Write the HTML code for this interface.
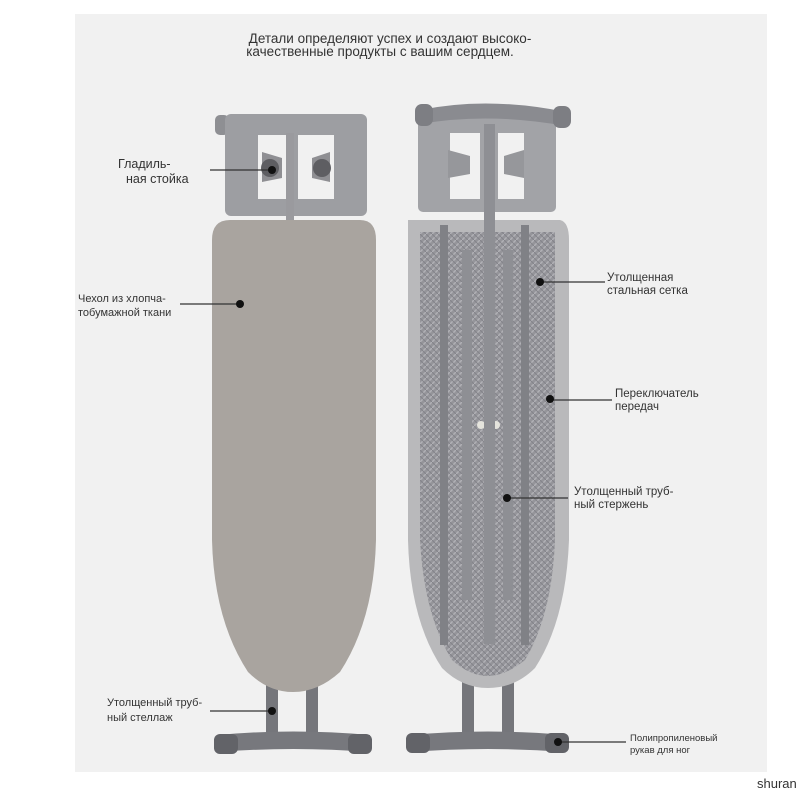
<!DOCTYPE html>
<html><head><meta charset="utf-8"><style>
html,body{margin:0;padding:0;background:#fff;}
svg{display:block;}
text{font-family:"Liberation Sans",sans-serif;fill:#333;}
</style></head><body>
<svg width="800" height="800" viewBox="0 0 800 800" xmlns="http://www.w3.org/2000/svg">
<defs>
<pattern id="mesh" width="6" height="6" patternUnits="userSpaceOnUse">
<rect width="6" height="6" fill="#95959a"/>
<path d="M0 6L6 0" stroke="#b0b0b5" stroke-width="1.5"/>
<path d="M0 0L6 6" stroke="#84848a" stroke-width="1"/>
</pattern>
</defs>
<rect x="75" y="14" width="692" height="758" fill="#f1f1f1"/>
<text x="390" y="43" text-anchor="middle" font-size="13.5" fill="#555">Детали определяют успех и создают высоко-</text>
<text x="380" y="56" text-anchor="middle" font-size="13.5" fill="#555">качественные продукты с вашим сердцем.</text>

<!-- LEFT -->
<rect x="266" y="670" width="12" height="68" fill="#75767b"/>
<rect x="306" y="680" width="12" height="58" fill="#75767b"/>
<path d="M218 735 Q293 728 370 735 L370 752 Q293 746 218 752 Z" fill="#77787d"/>
<rect x="214" y="734" width="24" height="20" rx="6" fill="#626368"/>
<rect x="348" y="734" width="24" height="20" rx="6" fill="#626368"/>
<rect x="215" y="115" width="14" height="20" rx="5" fill="#8e8f93"/>
<rect x="225" y="114" width="142" height="102" rx="6" fill="#9d9ea2"/>
<rect x="258" y="135" width="32" height="64" fill="#f1f1f1"/>
<rect x="298" y="135" width="36" height="64" fill="#f1f1f1"/>
<rect x="286" y="133" width="8" height="88" fill="#9a9a9e"/>
<path d="M262 152 L282 158 L282 178 L262 182 Z" fill="#8f8f93"/>
<circle cx="270" cy="168" r="9" fill="#5e5e62"/>
<path d="M330 152 L312 158 L312 178 L330 182 Z" fill="#8f8f93"/>
<circle cx="322" cy="168" r="9" fill="#5e5e62"/>
<path d="M230 220 L360 220 Q376 220 376 240 L376 540 Q374 620 340 672 Q318 692 293 692 Q268 692 248 672 Q214 620 212 540 L212 240 Q212 220 230 220 Z" fill="#a9a49f"/>

<!-- RIGHT -->
<rect x="462" y="590" width="12" height="148" fill="#75767b"/>
<rect x="502" y="590" width="12" height="148" fill="#75767b"/>
<path d="M408 220 L560 220 Q569 222 569 240 L569 540 Q566 620 535 668 Q515 688 488 688 Q462 688 442 668 Q410 620 408 540 Z" fill="#b9b9bb"/>
<path d="M420 232 L555 232 L555 540 Q552 615 525 660 Q505 676 488 676 Q470 676 452 660 Q424 615 420 540 Z" fill="url(#mesh)"/>
<rect x="440" y="225" width="8" height="420" fill="#808186"/>
<rect x="521" y="225" width="8" height="420" fill="#808186"/>
<rect x="462" y="250" width="10" height="350" fill="#8e8f94"/>
<rect x="503" y="250" width="10" height="350" fill="#8e8f94"/>
<circle cx="481" cy="425" r="4" fill="#e5e4dd"/>
<circle cx="496" cy="425" r="4" fill="#e5e4dd"/>
<path d="M410 735 Q488 728 566 735 L566 752 Q488 746 410 752 Z" fill="#77787d"/>
<rect x="406" y="733" width="24" height="20" rx="6" fill="#626368"/>
<rect x="545" y="733" width="24" height="20" rx="6" fill="#626368"/>
<rect x="418" y="118" width="138" height="94" rx="5" fill="#a2a3a7"/>
<rect x="450" y="133" width="30" height="66" fill="#f1f1f1"/>
<rect x="498" y="133" width="26" height="66" fill="#f1f1f1"/>
<path d="M448 150 L470 156 L470 174 L448 178 Z" fill="#96979b"/>
<path d="M524 150 L504 156 L504 174 L524 178 Z" fill="#96979b"/>
<path d="M420 110 Q488 96 566 112 L566 126 Q488 112 420 124 Z" fill="#8a8b90"/>
<rect x="415" y="104" width="18" height="22" rx="7" fill="#7d7e83"/>
<rect x="553" y="106" width="18" height="22" rx="7" fill="#7d7e83"/>
<rect x="484" y="124" width="11" height="520" fill="#8e8f94"/>

<g font-size="12.5">
<text x="118" y="168">Гладиль-</text>
<text x="126" y="183">ная стойка</text>
<line x1="210" y1="170" x2="272" y2="170" stroke="#333" stroke-width="1.2"/><circle cx="272" cy="170" r="4" fill="#111"/>
<g font-size="11"><text x="78" y="302">Чехол из хлопча-</text>
<text x="78" y="316">тобумажной ткани</text></g>
<line x1="180" y1="304" x2="240" y2="304" stroke="#333" stroke-width="1.2"/><circle cx="240" cy="304" r="4" fill="#111"/>
<g font-size="11.5"><text x="607" y="281">Утолщенная</text>
<text x="607" y="294">стальная сетка</text></g>
<line x1="540" y1="282" x2="605" y2="282" stroke="#333" stroke-width="1.2"/><circle cx="540" cy="282" r="4" fill="#111"/>
<g font-size="11.5"><text x="615" y="397">Переключатель</text>
<text x="615" y="410">передач</text></g>
<line x1="550" y1="400" x2="612" y2="400" stroke="#333" stroke-width="1.2"/><circle cx="550" cy="399" r="4" fill="#111"/>
<g font-size="11.5"><text x="574" y="495">Утолщенный труб-</text>
<text x="574" y="508">ный стержень</text></g>
<line x1="507" y1="498" x2="568" y2="498" stroke="#333" stroke-width="1.2"/><circle cx="507" cy="498" r="4" fill="#111"/>
<g font-size="11"><text x="107" y="706">Утолщенный труб-</text>
<text x="107" y="721">ный стеллаж</text></g>
<line x1="210" y1="711" x2="272" y2="711" stroke="#333" stroke-width="1.2"/><circle cx="272" cy="711" r="4" fill="#111"/>
<g font-size="9.5"><text x="630" y="741">Полипропиленовый</text>
<text x="630" y="753">рукав для ног</text></g>
<line x1="558" y1="742" x2="626" y2="742" stroke="#333" stroke-width="1.2"/><circle cx="558" cy="742" r="4" fill="#111"/>
<text x="757" y="788" font-size="13" fill="#222">shuran</text>
</g>
</svg>
</body></html>
